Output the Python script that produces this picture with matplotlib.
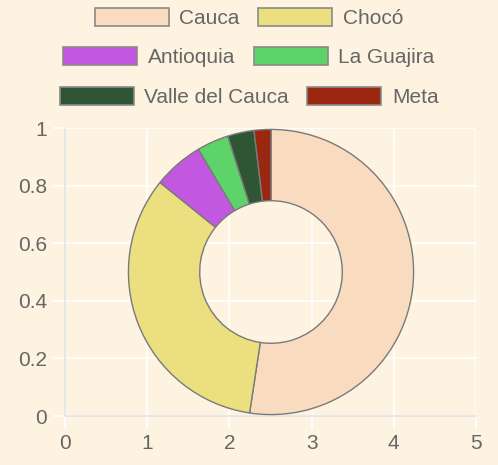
import matplotlib.pyplot as plt
from matplotlib.patches import Patch

labels = ['Cauca', 'Chocó', 'Antioquia', 'La Guajira', 'Valle del Cauca', 'Meta']
values = [52.4, 33.4, 5.7, 3.6, 3.0, 1.9]
colors = ['#F9DCC0', '#EBDF7F', '#C258E0', '#5ED36A', '#2F5634', '#9A2710']
x_ticks = [0, 1, 2, 3, 4, 5]
y_ticks = [0, 0.2, 0.4, 0.6, 0.8, 1]
y_tick_labels = ['0', '0.2', '0.4', '0.6', '0.8', '1']

plt.rcParams['font.family'] = ['Liberation Sans', 'DejaVu Sans']

bg = '#FDF3E0'
txt = '#666666'
W, H = 498, 465

fig = plt.figure(figsize=(W / 100, H / 100), dpi=100, facecolor=bg)

# background axes with the grid
ax = fig.add_axes([65 / W, (H - 416) / H, 411 / W, 288 / H])
ax.set_facecolor(bg)
ax.set_xlim(0, 5)
ax.set_ylim(0, 1)
ax.set_xticks(x_ticks)
ax.set_yticks(y_ticks)
ax.set_yticklabels(y_tick_labels)
ax.grid(True, color='white', linewidth=1.3)
ax.tick_params(colors='white', labelcolor=txt, labelsize=15, length=9, width=1.3, pad=4)
for s in ['top', 'right']:
    ax.spines[s].set_visible(False)
for s in ['left', 'bottom']:
    ax.spines[s].set_color('#E2E4E6')
    ax.spines[s].set_linewidth(1.2)
ax.set_axisbelow(True)

# doughnut on its own square axes
pax = fig.add_axes([127 / W, (H - 416) / H, 288 / W, 288 / H])
pax.pie(values, colors=colors, startangle=90, counterclock=False, radius=1,
        wedgeprops=dict(width=0.5, edgecolor='#7A7A7A', linewidth=1))
pax.set_xlim(-1.01, 1.01)
pax.set_ylim(-1.01, 1.01)
pax.set_aspect('equal')
pax.axis('off')

# legend, three centered rows of two
rows = [(0, 1), (2, 3), (4, 5)]
row_y = [18, 57, 97]
for (i, j), yy in zip(rows, row_y):
    handles = [Patch(facecolor=colors[k], edgecolor='#8A8A8A', linewidth=1.2) for k in (i, j)]
    leg = fig.legend(handles, [labels[i], labels[j]], loc='center',
                     bbox_to_anchor=(0.5, 1 - yy / H), ncol=2, frameon=False,
                     fontsize=15, handlelength=3.55, handleheight=1.0,
                     handletextpad=0.5, columnspacing=0.9, borderpad=0)
    for t in leg.get_texts():
        t.set_color(txt)

fig.savefig('out.png', dpi=100, facecolor=bg)
